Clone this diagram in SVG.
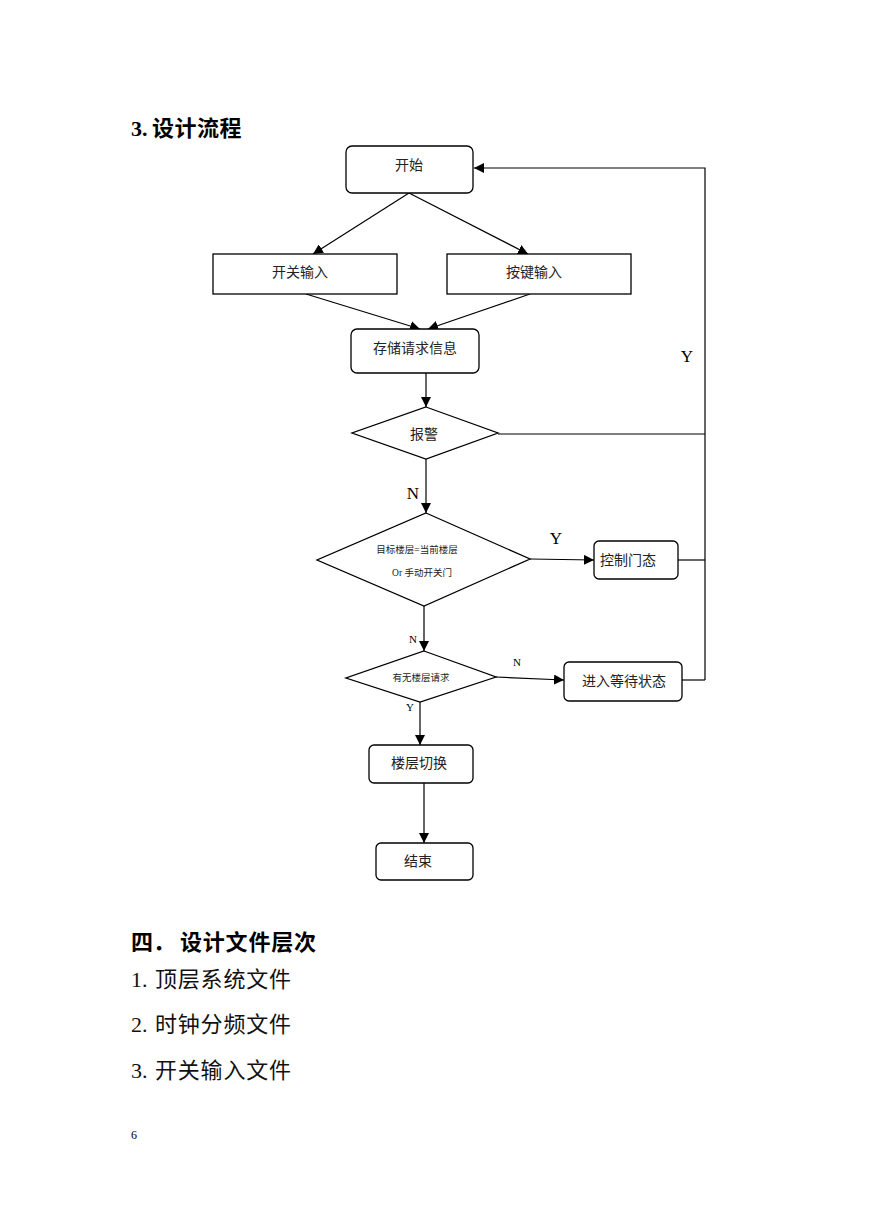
<svg xmlns="http://www.w3.org/2000/svg" width="869" height="1228" viewBox="0 0 869 1228">
<style>
.bg{fill:#fff}
.box{fill:#fff;stroke:#000;stroke-width:1.3}
.ln{fill:none;stroke:#000;stroke-width:1.2}
.t{font-family:"Liberation Serif","Noto Sans CJK SC",serif;font-size:14px;fill:#222;text-anchor:middle;dominant-baseline:central}
.s{font-family:"Liberation Serif","Noto Sans CJK SC",serif;font-size:9.5px;fill:#222;text-anchor:middle;dominant-baseline:central}
.lab{font-family:"Liberation Serif",serif;font-size:17px;fill:#000;text-anchor:middle}
.labs{font-family:"Liberation Serif",serif;font-size:11px;fill:#000;text-anchor:middle}
.h{font-family:"Liberation Serif","Noto Sans CJK SC",serif;font-size:22px;font-weight:bold;fill:#000}
.p{font-family:"Liberation Serif","Noto Sans CJK SC",serif;font-size:22px;fill:#111}
</style>
<defs>
<marker id="ah" viewBox="0 0 10 10" refX="10" refY="5" markerWidth="10" markerHeight="10" markerUnits="userSpaceOnUse" orient="auto">
<path d="M0,0 L10,5 L0,10 z" fill="#000"/>
</marker>
</defs>
<rect class="bg" x="0" y="0" width="869" height="1228"/>
<text class="h" x="131" y="136">3.<tspan x="152" letter-spacing="0.5">设计流程</tspan></text>

<g id="connectors">
<line class="ln" x1="409" y1="193" x2="313" y2="254" marker-end="url(#ah)"/>
<line class="ln" x1="409" y1="193" x2="528" y2="254" marker-end="url(#ah)"/>
<line class="ln" x1="306" y1="294" x2="420" y2="329" marker-end="url(#ah)"/>
<line class="ln" x1="530" y1="294" x2="428" y2="329" marker-end="url(#ah)"/>
<line class="ln" x1="426" y1="373" x2="426" y2="407" marker-end="url(#ah)"/>
<line class="ln" x1="498" y1="434" x2="705" y2="434"/>
<polyline class="ln" points="705,680 705,168 474,168" marker-end="url(#ah)"/>
<line class="ln" x1="426" y1="459" x2="426" y2="513" marker-end="url(#ah)"/>
<line class="ln" x1="530" y1="559" x2="594" y2="560" marker-end="url(#ah)"/>
<line class="ln" x1="678" y1="560" x2="705" y2="560"/>
<line class="ln" x1="424" y1="606" x2="424" y2="651" marker-end="url(#ah)"/>
<line class="ln" x1="496" y1="677" x2="564" y2="680" marker-end="url(#ah)"/>
<line class="ln" x1="682" y1="680" x2="705" y2="680"/>
<line class="ln" x1="420" y1="702" x2="420" y2="745" marker-end="url(#ah)"/>
<line class="ln" x1="424" y1="783" x2="424" y2="843" marker-end="url(#ah)"/>
<text class="lab" x="687" y="362">Y</text>
<text class="lab" x="413" y="499">N</text>
<text class="lab" x="556" y="544">Y</text>
<text class="labs" x="413" y="643">N</text>
<text class="labs" x="517" y="666">N</text>
<text class="labs" x="410" y="711">Y</text>
</g>

<g id="start"><rect class="box" x="346" y="146" width="127" height="47" rx="6"/><text class="t" x="409" y="165">开始</text></g>
<g id="switch-input"><rect class="box" x="213" y="254" width="184" height="40"/><text class="t" x="300" y="272">开关输入</text></g>
<g id="key-input"><rect class="box" x="447" y="254" width="184" height="40"/><text class="t" x="534" y="272">按键输入</text></g>
<g id="store"><rect class="box" x="351" y="329" width="128" height="44" rx="6"/><text class="t" x="415" y="348">存储请求信息</text></g>
<g id="alarm"><polygon class="box" points="426,407 498,433 426,459 352,433"/><text class="t" x="424" y="434">报警</text></g>
<g id="target"><polygon class="box" points="426,513 530,559 424,606 317,560"/><text class="s" x="417" y="550">目标楼层=当前楼层</text><text class="s" x="422" y="573">Or  手动开关门</text></g>
<g id="door"><rect class="box" x="594" y="541" width="84" height="38" rx="5"/><text class="t" x="628" y="560">控制门态</text></g>
<g id="request"><polygon class="box" points="424,651 496,677 420,702 346,678"/><text class="s" x="421" y="678">有无楼层请求</text></g>
<g id="wait"><rect class="box" x="564" y="662" width="118" height="39" rx="5"/><text class="t" x="624" y="681">进入等待状态</text></g>
<g id="switch-floor"><rect class="box" x="369" y="745" width="104" height="38" rx="5"/><text class="t" x="419" y="763">楼层切换</text></g>
<g id="end"><rect class="box" x="376" y="843" width="97" height="37" rx="5"/><text class="t" x="418" y="861">结束</text></g>

<text class="h" x="131" y="950">四．<tspan x="180" letter-spacing="0.8">设计文件层次</tspan></text>
<text class="p" x="131" y="987">1.<tspan x="155" letter-spacing="0.8">顶层系统文件</tspan></text>
<text class="p" x="131" y="1032">2.<tspan x="155" letter-spacing="0.8">时钟分频文件</tspan></text>
<text class="p" x="131" y="1078">3.<tspan x="155" letter-spacing="0.8">开关输入文件</tspan></text>
<text font-family="Liberation Serif, serif" font-size="12" x="131" y="1139" fill="#000">6</text>
</svg>
